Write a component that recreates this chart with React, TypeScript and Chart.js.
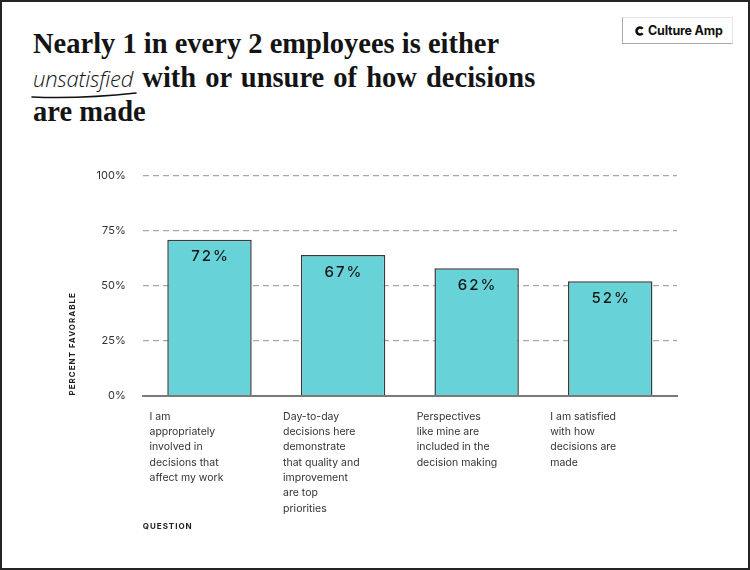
import React, { useEffect, useRef } from "react";
import { Chart, registerables } from "chart.js";

Chart.register(...registerables);

// ---- data ----
const categories: string[][] = [
  ["I am", "appropriately", "involved in", "decisions that", "affect my work"],
  ["Day-to-day", "decisions here", "demonstrate", "that quality and", "improvement", "are top", "priorities"],
  ["Perspectives", "like mine are", "included in the", "decision making"],
  ["I am satisfied", "with how", "decisions are", "made"],
];
const barValues: number[] = [71, 64, 58, 52];
const valueLabels: string[] = ["72%", "67%", "62%", "52%"];
const yMin = 0;
const yMax = 100;
const yStep = 25;
const yAxisTitle = "PERCENT FAVORABLE";
const xAxisTitle = "QUESTION";

const FONT = "Inter, 'Noto Sans', sans-serif";

const labelsPlugin = {
  id: "customLabels",
  afterDatasetsDraw(chart: any) {
    const ctx = chart.ctx as CanvasRenderingContext2D;
    const meta = chart.getDatasetMeta(0);
    ctx.save();
    ctx.font = `500 15px ${FONT}`;
    (ctx as any).letterSpacing = "2px";
    ctx.fillStyle = "#161616";
    ctx.textAlign = "center";
    ctx.textBaseline = "middle";
    meta.data.forEach((bar: any, i: number) => {
      const p = bar.getProps(["x", "y"], true);
      ctx.fillText(valueLabels[i], p.x + 1, p.y + 17);
    });
    ctx.restore();
  },
  afterDraw(chart: any) {
    const ctx = chart.ctx as CanvasRenderingContext2D;
    const area = chart.chartArea;
    ctx.save();
    ctx.fillStyle = "#1e1e1e";
    ctx.font = `700 8px ${FONT}`;
    (ctx as any).letterSpacing = "1px";
    ctx.textBaseline = "middle";
    ctx.textAlign = "left";
    // y axis title, bottom-aligned with the plot
    ctx.save();
    ctx.translate(71, area.bottom);
    ctx.rotate(-Math.PI / 2);
    ctx.fillText(yAxisTitle, 0, 0);
    ctx.restore();
    // x axis title, left-aligned with the plot
    ctx.fillText(xAxisTitle, area.left, 374.5);
    ctx.restore();
  },
};

export default function App() {
  const ref = useRef<HTMLCanvasElement>(null);

  useEffect(() => {
    const canvas = ref.current;
    if (!canvas) return;
    const chart = new Chart(canvas, {
      type: "bar",
      data: {
        labels: categories as any,
        datasets: [
          {
            data: barValues,
            backgroundColor: "#67d3d8",
            borderColor: "#3a3a3a",
            borderWidth: 1.5,
            categoryPercentage: 1,
            barPercentage: 0.632,
          },
        ],
      },
      options: {
        animation: false,
        responsive: true,
        maintainAspectRatio: false,
        layout: { padding: { top: 24, right: 71, left: 0, bottom: 0 } },
        plugins: {
          legend: { display: false },
          tooltip: { enabled: false },
          title: { display: false },
        },
        scales: {
          y: {
            min: yMin,
            max: yMax,
            ticks: {
              stepSize: yStep,
              callback: (v: any) => `${v}%`,
              font: { family: FONT, size: 11 },
              color: "#333",
              padding: 17,
            },
            grid: {
              color: "#a8a8a8",
              lineWidth: 1.2,
              drawTicks: false,
            },
            border: { display: false, dash: [6, 4] },
            afterFit: (scale: any) => {
              scale.width = 140.7;
            },
          },
          x: {
            grid: { display: false, drawTicks: false },
            border: { display: true, color: "#7a7a7a", width: 2 },
            ticks: {
              align: "start",
              labelOffset: -60,
              padding: 13.5,
              autoSkip: false,
              maxRotation: 0,
              minRotation: 0,
              color: "#333",
              font: { family: FONT, size: 10.5, lineHeight: 1.46 },
            },
            afterFit: (scale: any) => {
              scale.height = 146.5;
            },
          },
        },
      } as any,
      plugins: [labelsPlugin],
    });
    return () => chart.destroy();
  }, []);

  return (
    <div
      style={{
        position: "absolute",
        left: 0,
        top: 0,
        width: 750,
        height: 570,
        boxSizing: "border-box",
        border: "2px solid #242424",
        background: "#fff",
        overflow: "hidden",
      }}
    >
      <div
        style={{
          position: "absolute",
          left: 31,
          top: 25,
          fontFamily: "'Liberation Serif', serif",
          fontWeight: 700,
          fontSize: 28.5,
          lineHeight: "34px",
          color: "#141414",
          whiteSpace: "nowrap",
        }}
      >
        <div>Nearly 1 in every 2 employees is either</div>
        <div style={{ wordSpacing: "2px" }}>
          <span
            style={{
              fontFamily: "'Open Sans', sans-serif",
              fontStyle: "italic",
              fontWeight: 300,
              fontSize: 22,
              lineHeight: "20px",
              letterSpacing: "-0.2px",
            }}
          >
            unsatisfied
          </span>{" "}
          with or unsure of how decisions
        </div>
        <div>are made</div>
      </div>
      <svg
        style={{ position: "absolute", left: 28, top: 87, width: 112, height: 12 }}
        viewBox="0 0 112 12"
      >
        <path d="M2,8 Q52,10 106,4" stroke="#111" strokeWidth={1.6} fill="none" strokeLinecap="round" />
      </svg>

      <div
        style={{
          position: "absolute",
          left: 620,
          top: 15,
          width: 111,
          height: 27,
          boxSizing: "border-box",
          borderTop: "1px solid #e6e6e6",
          borderRight: "1px solid #e6e6e6",
          borderLeft: "1px solid #a9a9a9",
          borderBottom: "1px solid #a9a9a9",
          display: "flex",
          alignItems: "center",
          paddingLeft: 12,
        }}
      >
        <svg width={10} height={10} viewBox="0 0 10 10" style={{ display: "block" }}>
          <path d="M7.68,2.75 A3.5,3.5 0 1 0 7.68,7.25" stroke="#111" strokeWidth={2.6} fill="none" />
        </svg>
        <span
          style={{
            marginLeft: 3,
            fontFamily: FONT,
            fontWeight: 700,
            fontSize: 12.5,
            letterSpacing: "-0.2px",
            color: "#111",
          }}
        >
          Culture Amp
        </span>
      </div>

      <div style={{ position: "absolute", left: 0, top: 150, width: 746, height: 390 }}>
        <canvas ref={ref} />
      </div>
    </div>
  );
}
